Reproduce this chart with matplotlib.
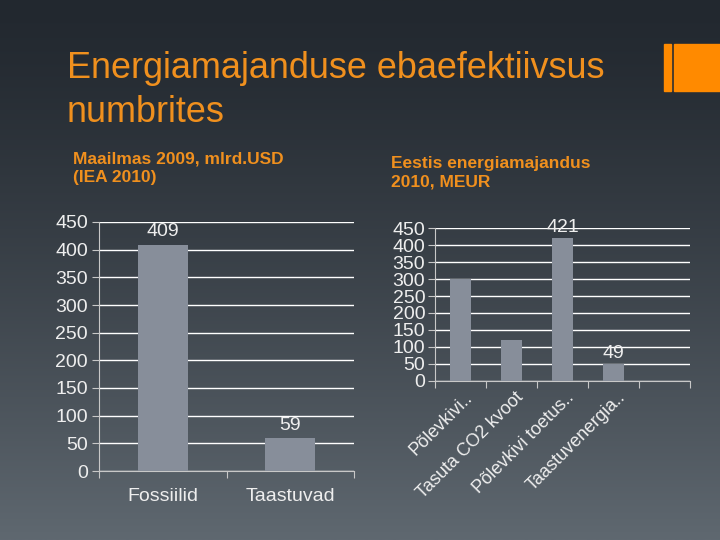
import numpy as np
import matplotlib.pyplot as plt
from matplotlib.patches import Rectangle
import matplotlib.transforms as mtransforms

# Data
world_cats = ['Fossiilid', 'Taastuvad']
world_vals = [409, 59]
world_labels = ['409', '59']

est_cats = ['Põlevkivi..', 'Tasuta CO2 kvoot', 'Põlevkivi toetus..', 'Taastuvenergia..']
est_vals = [300, 120, 421, 49]
est_labels = ['', '', '421', '49']

yticks = np.arange(0, 451, 50)

plt.rcParams['font.family'] = ['Liberation Sans', 'DejaVu Sans']

ORANGE = '#f0901e'
TXT = '#eeeeee'
BAR = '#878e9a'

fig = plt.figure(figsize=(7.2, 5.4), dpi=100)

# background gradient
bg = fig.add_axes([0, 0, 1, 1], zorder=-10)
grad = np.linspace(0, 1, 256).reshape(-1, 1)
top = np.array([0x22, 0x28, 0x2f]) / 255
bot = np.array([0x5f, 0x68, 0x70]) / 255
img = top + (bot - top) * grad[..., None] ** 1.3
bg.imshow(img, aspect='auto', extent=[0, 1, 0, 1], origin='upper')
bg.set_axis_off()

# orange accent
fig.patches.append(Rectangle((664 / 720, 1 - 91 / 540), 7 / 720, 47 / 540,
                             transform=fig.transFigure, color='#ff8a00'))
fig.patches.append(Rectangle((674 / 720, 1 - 91 / 540), 46 / 720, 47 / 540,
                             transform=fig.transFigure, color='#ff8a00'))

fig.text(67 / 720, 1 - 78 / 540, 'Energiamajanduse ebaefektiivsus', color=ORANGE,
         fontsize=25.9, va='baseline', ha='left')
fig.text(67 / 720, 1 - 122 / 540, 'numbrites', color=ORANGE,
         fontsize=25.9, va='baseline', ha='left')

fig.text(73 / 720, 1 - 151 / 540, 'Maailmas 2009, mlrd.USD\n(IEA 2010)', color=ORANGE,
         fontsize=12.5, fontweight='bold', va='top', ha='left', linespacing=1.3)
fig.text(391 / 720, 1 - 156 / 540, 'Eestis energiamajandus\n2010, MEUR', color=ORANGE,
         fontsize=12.5, fontweight='bold', va='top', ha='left', linespacing=1.3)


def style_axes(ax, n, fs):
    ax.set_facecolor('none')
    ax.set_ylim(0, 450)
    ax.set_xlim(-0.5, n - 0.5)
    ax.set_yticks(yticks)
    ax.yaxis.grid(True, color='white', linewidth=1.0)
    ax.set_axisbelow(True)
    for s in ['top', 'right']:
        ax.spines[s].set_visible(False)
    for s in ['left', 'bottom']:
        ax.spines[s].set_color('#c8c8c8')
        ax.spines[s].set_linewidth(0.8)
    ax.tick_params(axis='y', colors='#c8c8c8', labelcolor=TXT, labelsize=fs,
                   length=5, pad=3)
    ax.set_xticks(np.arange(-0.5, n, 1.0), minor=True)
    ax.tick_params(axis='x', which='minor', length=5, colors='#c8c8c8', width=0.8)
    ax.tick_params(axis='x', which='major', length=0, labelcolor=TXT, labelsize=fs)


# left chart
ax1 = fig.add_axes([99 / 720, 1 - 471 / 540, 255 / 720, 249 / 540])
x1 = np.arange(len(world_cats))
ax1.bar(x1, world_vals, width=0.39, color=BAR, zorder=3)
style_axes(ax1, len(world_cats), 14)
ax1.set_xticks(x1)
ax1.set_xticklabels(world_cats)
ax1.tick_params(axis='x', which='major', pad=12)
for xi, v, lab in zip(x1, world_vals, world_labels):
    ax1.text(xi, v + 8, lab, color=TXT, fontsize=14, ha='center', va='bottom', zorder=4)

# right chart
ax2 = fig.add_axes([435 / 720, 1 - 380.7 / 540, 255 / 720, 152.4 / 540])
x2 = np.arange(len(est_cats))
ax2.bar(x2, est_vals, width=0.41, color=BAR, zorder=3)
style_axes(ax2, 5, 14)
ax2.set_xticks(x2)
ax2.set_xticklabels(est_cats, rotation=45, ha='right', rotation_mode='anchor', fontsize=13)
ax2.tick_params(axis='x', which='major', pad=6)
ax2.tick_params(axis='y', pad=2)
shift = mtransforms.ScaledTranslation(3 / 100, 0, fig.dpi_scale_trans)
for lab in ax2.get_xticklabels():
    lab.set_transform(lab.get_transform() + shift)
for xi, v, lab in zip(x2, est_vals, est_labels):
    if lab:
        ax2.text(xi, v + 6, lab, color=TXT, fontsize=14, ha='center', va='bottom', zorder=4)

fig.savefig('out.png', dpi=100)
